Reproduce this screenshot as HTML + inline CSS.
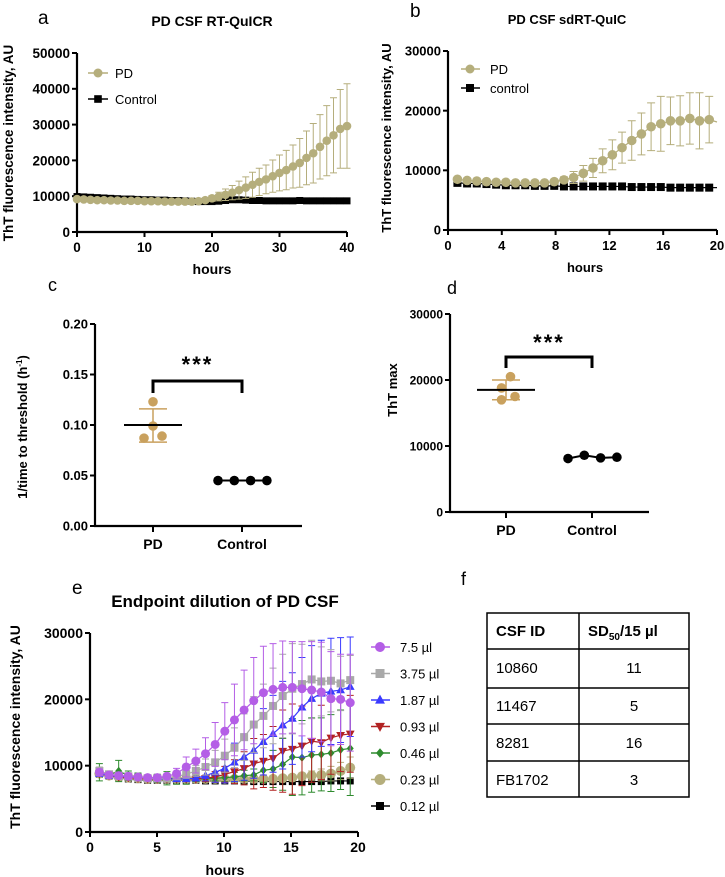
<!DOCTYPE html>
<html><head><meta charset="utf-8">
<style>
html,body{margin:0;padding:0;background:#fff;}
svg{display:block;font-family:"Liberation Sans",Arial,sans-serif;}
</style></head>
<body>
<svg id="fig" width="725" height="877" viewBox="0 0 725 877" xmlns="http://www.w3.org/2000/svg">
<g id="static" fill="#000">
<text x="38" y="24" font-size="19">a</text>
<text x="212" y="26" font-size="14" font-weight="bold" text-anchor="middle">PD CSF RT-QuICR</text>
<text x="212" y="274" font-size="14" font-weight="bold" text-anchor="middle">hours</text>
<text transform="translate(13,143) rotate(-90)" font-size="13.5" font-weight="bold" text-anchor="middle">ThT fluorescence intensity, AU</text>

<text x="410" y="17" font-size="19">b</text>
<text x="567" y="24" font-size="13" font-weight="bold" text-anchor="middle">PD CSF sdRT-QuIC</text>
<text x="585" y="272" font-size="13" font-weight="bold" text-anchor="middle">hours</text>
<text transform="translate(391,138) rotate(-90)" font-size="13" font-weight="bold" text-anchor="middle">ThT fluorescence intensity, AU</text>

<text x="48" y="291" font-size="18">c</text>
<text transform="translate(27,427) rotate(-90)" font-size="13" font-weight="bold" text-anchor="middle">1/time to threshold (h<tspan font-size="8" dy="-5">-1</tspan><tspan dy="5">)</tspan></text>

<text x="447" y="294" font-size="18">d</text>
<text transform="translate(397,390) rotate(-90)" font-size="13" font-weight="bold" text-anchor="middle">ThT max</text>

<text x="72" y="594" font-size="19">e</text>
<text x="225" y="607" font-size="17" font-weight="bold" text-anchor="middle">Endpoint dilution of PD CSF</text>
<text x="225" y="875" font-size="14" font-weight="bold" text-anchor="middle">hours</text>
<text transform="translate(20,727) rotate(-90)" font-size="14" font-weight="bold" text-anchor="middle">ThT fluorescence intensity, AU</text>

<text x="461" y="585" font-size="18">f</text>
<g stroke="#000" stroke-width="1.5" fill="none">
<rect x="487" y="613" width="202" height="184"/>
<line x1="579" y1="613" x2="579" y2="797"/>
<line x1="487" y1="649" x2="689" y2="649"/>
<line x1="487" y1="688" x2="689" y2="688"/>
<line x1="487" y1="724" x2="689" y2="724"/>
<line x1="487" y1="761" x2="689" y2="761"/>
</g>
<g font-size="15">
<text x="496" y="636" font-weight="bold">CSF ID</text>
<text x="588" y="636" font-weight="bold">SD<tspan font-size="10" dy="4">50</tspan><tspan dy="-4">/15 µl</tspan></text>
<text x="496" y="673">10860</text>
<text x="634" y="673" text-anchor="middle">11</text>
<text x="496" y="711">11467</text>
<text x="634" y="711" text-anchor="middle">5</text>
<text x="496" y="748">8281</text>
<text x="634" y="748" text-anchor="middle">16</text>
<text x="496" y="785">FB1702</text>
<text x="634" y="785" text-anchor="middle">3</text>
</g>
</g>
<g id="dyn"></g>
</svg>
<script>
// ---------- Panel a data ----------
const aTimes = [0,1,2,3,4,5,6,7,8,9,10,11,12,13,14,15,16,17,18,19,20,21,22,23,24,25,26,27,28,29,30,31,32,33,34,35,36,37,38,39,40];
const aPD = [9200,9100,9000,8900,8900,8800,8800,8700,8700,8700,8600,8600,8600,8500,8500,8500,8500,8500,8600,8900,9400,9900,10400,11000,11700,12400,13200,14000,14700,15600,16500,17300,18300,19300,20700,22000,23800,25500,27000,28800,29600];
const aPDsd = [500,500,500,500,500,500,500,500,500,500,500,500,500,500,500,500,500,500,500,600,800,1200,1600,2000,2500,3000,3500,3800,4000,4500,5000,5500,6000,6800,7500,8300,9000,9800,10500,11000,11800];
const aCtrl = [9900,9800,9700,9600,9500,9400,9300,9200,9200,9100,9000,9000,8900,8900,8800,8800,8700,8600,8500,8500,8500,8600,8800,9000,9000,8900,8800,8800,8700,8700,8700,8700,8700,8800,8700,8700,8700,8700,8700,8700,8700];
const aXTicks = [0,10,20,30,40];
const aYTicks = [0,10000,20000,30000,40000,50000];

// ---------- Panel b data ----------
const bTimes = [0.7,1.42,2.14,2.86,3.58,4.3,5.02,5.74,6.46,7.18,7.9,8.62,9.34,10.06,10.78,11.5,12.22,12.94,13.66,14.38,15.1,15.82,16.54,17.26,17.98,18.7,19.42];
const bPD = [8500,8300,8200,8100,8000,8000,7900,7900,7900,7900,8100,8400,8800,9500,10400,11600,12600,13800,15000,16100,17300,17800,18300,18300,18700,18300,18500];
const bPDsd = [0,0,0,0,0,0,0,0,0,0,0,500,1000,1300,1600,2000,2500,2600,3300,3500,4000,4600,4000,4200,4300,4700,3900];
const bCtrl = [7900,7800,7800,7700,7600,7500,7500,7500,7400,7400,7400,7300,7300,7300,7300,7300,7300,7300,7200,7200,7200,7200,7100,7100,7100,7100,7100];
const bXTicks = [0,4,8,12,16,20];
const bYTicks = [0,10000,20000,30000];

// ---------- Panel c data ----------
const cGroups = ["PD","Control"];
const cPD = [0.123,0.099,0.087,0.089];
const cPDx = [0,0,-1,1];
const cPDmean = 0.100, cPDlo = 0.083, cPDhi = 0.116;
const cCtrl = [0.045,0.045,0.045,0.045];
const cYTicks = [0,0.05,0.10,0.15,0.20];
const cYLabels = ["0.00","0.05","0.10","0.15","0.20"];

// ---------- Panel d data ----------
const dGroups = ["PD","Control"];
const dPD = [20500,18800,17500,17000];
const dPDx = [0.5,-0.5,1,-0.5];
const dPDmean = 18500, dPDlo = 17000, dPDhi = 20000;
const dCtrl = [8100,8600,8200,8300];
const dYTicks = [0,10000,20000,30000];

// ---------- Panel e data ----------
const eTimes = [0.7,1.42,2.14,2.86,3.58,4.3,5.02,5.74,6.46,7.18,7.9,8.62,9.34,10.06,10.78,11.5,12.22,12.94,13.66,14.38,15.1,15.82,16.54,17.26,17.98,18.7,19.42];
const eLabels = ["7.5 µl"," 3.75 µl","1.87 µl","0.93 µl","0.46 µl","0.23 µl","0.12 µl"];
const e75 = [9000,8600,8500,8400,8300,8200,8200,8400,8800,9800,10700,11800,13200,15200,16900,18400,19800,21000,21500,21800,21800,21600,21400,21100,20100,20000,19500];
const e75sd = [500,300,300,300,300,300,300,300,800,1500,1800,2400,3300,4300,5400,6000,6500,7000,6900,7000,6900,7100,7300,7500,7100,6800,7300];
const e375 = [9200,8700,8500,8400,8200,8100,8100,8100,8400,8700,9200,9800,10500,11500,12700,14300,16200,17500,19000,20500,21600,22300,23000,22700,22800,22400,22900];
const e375sd = [600,300,300,300,300,300,300,300,400,600,800,1200,1800,2500,3000,3500,4200,4800,5700,6300,6800,6000,5900,5200,4700,4100,3700];
const e187 = [8800,8500,8400,8300,8200,8100,8000,8000,8000,8000,8100,8500,9000,9600,10500,11300,12300,13600,14800,16100,17100,18800,20100,20900,21200,21400,21900];
const e187sd = [300,300,300,300,300,300,300,300,300,300,300,800,1500,2200,2900,3500,4200,5000,5800,6600,6900,7500,8000,8000,8000,7900,7500];
const e093 = [8800,8500,8300,8200,8100,8000,8000,8000,8000,8000,8000,8100,8300,8700,9100,9600,10300,10700,11100,12200,12500,13000,13700,13500,14200,14600,14800];
const e093sd = [300,300,300,300,300,300,300,300,300,300,300,500,800,1200,1800,2500,3800,4000,4800,6200,6800,6000,6200,5600,5500,5500,5800];
const e046 = [9000,8600,9200,8500,8300,8200,8100,8100,8000,8000,8000,8000,8100,8200,8300,8500,8600,9300,9500,10200,11300,11200,11600,11700,11900,12400,12600];
const e046sd = [1300,500,1600,700,600,300,600,1000,800,800,400,400,400,600,700,800,900,1800,2800,3900,5800,5600,5600,5500,5800,6000,7100];
const e023 = [8800,8500,8300,8200,8100,8000,8000,8000,8000,8000,8000,8000,8000,8000,8000,8000,8000,8000,8000,8100,8200,8400,8500,8600,8800,9200,9700];
const e023sd = [300,300,300,300,300,300,300,300,300,300,300,300,300,300,300,300,300,300,300,300,400,500,700,900,1100,1300,1600];
const e012 = [8700,8400,8200,8000,7900,7800,7800,7800,7800,7800,7800,7700,7700,7700,7700,7700,7600,7600,7600,7600,7600,7600,7600,7600,7700,7700,7700];
const eXTicks = [0,5,10,15,20];
const eYTicks = [0,10000,20000,30000];

const NS = "http://www.w3.org/2000/svg";
const dyn = document.getElementById("dyn");
function mk(tag, attrs, parent){
  const el = document.createElementNS(NS, tag);
  for (const k in attrs) el.setAttribute(k, attrs[k]);
  (parent||dyn).appendChild(el);
  return el;
}
function scale(d0,d1,r0,r1){ return v => r0 + (v-d0)/(d1-d0)*(r1-r0); }

function axes(g, X, Y, xmin, xmax, y0, ytop, xTicks, yTicks, yLabels, fs, xLabelsArr){
  const ya = mk("line",{x1:X(xmin),y1:Y(ytop),x2:X(xmin),y2:Y(y0),stroke:"#000","stroke-width":2.2},g);
  
  
  const xa = mk("line",{x1:X(xmin)-1,y1:Y(y0),x2:X(xmax),y2:Y(y0),stroke:"#000","stroke-width":2.2},g);
  
  
  yTicks.forEach((v,i)=>{
    const t = mk("line",{x1:X(xmin)-5,y1:Y(v),x2:X(xmin),y2:Y(v),stroke:"#000","stroke-width":2},g);
    
    
    const tx = mk("text",{x:X(xmin)-7,y:Y(v)+fs*0.36,"font-size":fs,"font-weight":"bold","text-anchor":"end"},g);
    
    
    tx.textContent = yLabels ? yLabels[i] : String(v);
  });
  if (xTicks) xTicks.forEach(v=>{
    const t = mk("line",{x1:X(v),y1:Y(y0),x2:X(v),y2:Y(y0)+5,stroke:"#000","stroke-width":2},g);
    
    
    const tx = mk("text",{x:X(v),y:Y(y0)+20,"font-size":fs,"font-weight":"bold","text-anchor":"middle"},g);
    
    
    tx.textContent = String(v);
  });
}
function marker(g, shape, x, y, s, color){
  let el;
  if (shape==="circle") el = mk("circle",{cx:x,cy:y,r:s,fill:color},g);
  else if (shape==="square") el = mk("rect",{x:x-s,y:y-s,width:2*s,height:2*s,fill:color},g);
  else if (shape==="tri") el = mk("polygon",{points:`${x},${y-s*1.2} ${x+s*1.1},${y+s*0.8} ${x-s*1.1},${y+s*0.8}`,fill:color},g);
  else if (shape==="dtri") el = mk("polygon",{points:`${x},${y+s*1.2} ${x+s*1.1},${y-s*0.8} ${x-s*1.1},${y-s*0.8}`,fill:color},g);
  else el = mk("polygon",{points:`${x},${y-s*1.2} ${x+s},${y} ${x},${y+s*1.2} ${x-s},${y}`,fill:color},g);
  
  
  return el;
}
function series(g, name, X, Y, xs, ys, sds, color, shape, size, lw, capw){
  const sg = mk("g",{},g);
  
  
  if (sds) xs.forEach((t,i)=>{
    if (!sds[i]) return;
    const x = X(t), yh = Y(ys[i]+sds[i]), yl = Y(ys[i]-sds[i]);
    const e = mk("path",{d:`M${x},${yl}V${yh}M${x-capw},${yh}H${x+capw}M${x-capw},${yl}H${x+capw}`,stroke:color,"stroke-width":1,fill:"none"},sg);
    
    
  });
  const pl = mk("polyline",{points:xs.map((t,i)=>X(t)+","+Y(ys[i])).join(" "),fill:"none",stroke:color,"stroke-width":lw},sg);
  
  
  xs.forEach((t,i)=>marker(sg, shape, X(t), Y(ys[i]), size, color));
}

// Panel a
const ga = mk("g",{});


const aX = scale(0,40,77,347), aY = scale(0,50000,232,53);
axes(ga,aX,aY,0,40,0,50000,aXTicks,aYTicks,null,13.5);
series(ga,"series-control-a",aX,aY,aTimes,aCtrl,null,"#000","square",3.5,3,0);
series(ga,"series-pd-a",aX,aY,aTimes,aPD,aPDsd,"#b5ae7c","circle",4.3,1.2,3.5);
const lga = mk("g",{},ga);


mk("line",{x1:88,y1:73,x2:108,y2:73,stroke:"#b5ae7c","stroke-width":1.5},lga);
marker(lga,"circle",98,73,4.5,"#b5ae7c");
mk("line",{x1:88,y1:99,x2:108,y2:99,stroke:"#000","stroke-width":1.5},lga);
marker(lga,"square",98,99,3.8,"#000");
let t1 = mk("text",{x:115,y:78,"font-size":13},lga); t1.textContent="PD";


let t2 = mk("text",{x:115,y:104,"font-size":13},lga); t2.textContent="Control";



// Panel b
const gb = mk("g",{});


const bX = scale(0,20,448,717), bY = scale(0,30000,230,51);
axes(gb,bX,bY,0,20,0,30000,bXTicks,bYTicks,null,13);
series(gb,"series-control-b",bX,bY,bTimes,bCtrl,null,"#000","square",4,1.2,0);
series(gb,"series-pd-b",bX,bY,bTimes,bPD,bPDsd,"#b5ae7c","circle",4.8,1.2,4);
mk("line",{x1:bX(19.42),y1:bY(18500),x2:bX(20),y2:bY(18100),stroke:"#b5ae7c","stroke-width":1.2},gb);
mk("line",{x1:bX(19.42),y1:bY(7100),x2:bX(20),y2:bY(7100),stroke:"#000","stroke-width":1.2},gb);
const lgb = mk("g",{},gb);


mk("line",{x1:461,y1:69,x2:480,y2:69,stroke:"#b5ae7c","stroke-width":1.5},lgb);
marker(lgb,"circle",470,69,4.5,"#b5ae7c");
mk("line",{x1:461,y1:88,x2:480,y2:88,stroke:"#000","stroke-width":1.5},lgb);
marker(lgb,"square",470,88,4,"#000");
t1 = mk("text",{x:490,y:74,"font-size":13},lgb); t1.textContent="PD";


t2 = mk("text",{x:490,y:93,"font-size":13},lgb); t2.textContent="control";



// scatter helper
function dotPlot(g, X, Y, y0, ytop, xmin, xmax, groups, gx, yTicks, yLabels, pd, pdx, mean, lo, hi, ctrl, ctrlOff, brY, brLeg, starY, fs){
  axes(g,X,Y,xmin,xmax,y0,ytop,null,yTicks,yLabels,fs);
  groups.forEach((name,i)=>{
    const t = mk("line",{x1:gx[i],y1:Y(y0),x2:gx[i],y2:Y(y0)+6,stroke:"#000","stroke-width":2},g);
    
    
    const tx = mk("text",{x:gx[i],y:Y(y0)+23,"font-size":14,"font-weight":"bold","text-anchor":"middle"},g);
    
    
    tx.textContent = name;
  });
  const gold = "#c9a15e";
  const eb = mk("path",{d:`M${gx[0]},${Y(lo)}V${Y(hi)}M${gx[0]-14},${Y(hi)}H${gx[0]+14}M${gx[0]-14},${Y(lo)}H${gx[0]+14}`,stroke:gold,"stroke-width":1.5,fill:"none"},g);
  
  
  pd.forEach((v,i)=>{ const c = mk("circle",{cx:gx[0]+pdx[i]*9,cy:Y(v),r:4.8,fill:gold},g);
    
     });
  const ml = mk("line",{x1:gx[0]-29,y1:Y(mean),x2:gx[0]+29,y2:Y(mean),stroke:"#000","stroke-width":2},g);
  
  
  const cx = ctrl.map((v,i)=>gx[1]-24+i*16.3+ctrlOff);
  const cl = mk("polyline",{points:ctrl.map((v,i)=>cx[i]+","+Y(v)).join(" "),stroke:"#000","stroke-width":2,fill:"none"},g);
  
  
  ctrl.forEach((v,i)=>{ const c = mk("circle",{cx:cx[i],cy:Y(v),r:4.8,fill:"#000"},g);
    
     });
  const br = mk("path",{d:`M${gx[0]},${brY+brLeg}V${brY}H${gx[1]}V${brY+brLeg}`,stroke:"#000","stroke-width":3,fill:"none"},g);
  
  
  const st = mk("text",{x:(gx[0]+gx[1])/2,y:starY,"font-size":22,"font-weight":"bold","text-anchor":"middle","letter-spacing":"2"},g);
  
  
  st.textContent = "***";
}
const gc = mk("g",{});


const cX = scale(0,1,95,302), cY = scale(0,0.20,526,324);
dotPlot(gc,cX,cY,0,0.20,0,1,cGroups,[153,242],cYTicks,cYLabels,cPD,cPDx,cPDmean,cPDlo,cPDhi,cCtrl,0,381,12,372,13);

const gd = mk("g",{});


const dX = scale(0,1,450,649), dY = scale(0,30000,512,314);
dotPlot(gd,dX,dY,0,30000,0,1,dGroups,[506,592],dYTicks,null,dPD,dPDx,dPDmean,dPDlo,dPDhi,dCtrl,0,357,11,350,12);

// Panel e
const ge = mk("g",{});


const eX = scale(0,20,90,358), eY = scale(0,30000,832,633);
axes(ge,eX,eY,0,20,0,30000,eXTicks,eYTicks,null,14);
const eSeries = [
  ["series-0-12ul",e012,null,"#000","square",3.5],
  ["series-0-23ul",e023,e023sd,"#b5ae7c","circle",5],
  ["series-0-46ul",e046,e046sd,"#2e8b2e","diamond",3.5],
  ["series-0-93ul",e093,e093sd,"#b22222","dtri",4],
  ["series-1-87ul",e187,e187sd,"#3a3aff","tri",4],
  ["series-3-75ul",e375,e375sd,"#a9a9a9","square",4],
  ["series-7-5ul",e75,e75sd,"#b45ee6","circle",4.5]
];
eSeries.forEach(s=>series(ge,s[0],eX,eY,eTimes,s[1],s[2],s[3],s[4],s[5],1.2,3.5));
const lge = mk("g",{},ge);


const legOrder = [6,5,4,3,2,1,0];
legOrder.forEach((si,i)=>{
  const s = eSeries[si], y = 647 + i*26.5;
  mk("line",{x1:371,y1:y,x2:390,y2:y,stroke:s[3],"stroke-width":1.5},lge);
  marker(lge,s[4],380,y,s[5]+0.5,s[3]);
  const t = mk("text",{x:400,y:y+5,"font-size":13},lge);
  
  
  t.textContent = eLabels[i];
});
</script>
</body></html>
